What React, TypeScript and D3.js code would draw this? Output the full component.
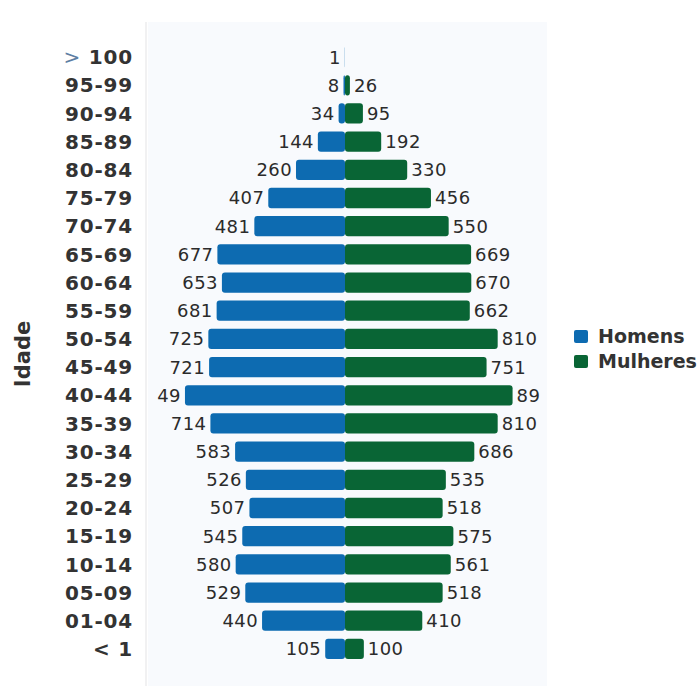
import React from "react";
import * as d3 from "d3";

// age groups, top to bottom
const ages: string[] = [
  "> 100", "95-99", "90-94", "85-89", "80-84", "75-79", "70-74", "65-69",
  "60-64", "55-59", "50-54", "45-49", "40-44", "35-39", "30-34", "25-29",
  "20-24", "15-19", "10-14", "05-09", "01-04", "< 1",
];

const men: number[] = [
  1, 8, 34, 144, 260, 407, 481, 677, 653, 681, 725, 721, 849, 714, 583, 526,
  507, 545, 580, 529, 440, 105,
];
const women: number[] = [
  0, 26, 95, 192, 330, 456, 550, 669, 670, 662, 810, 751, 889, 810, 686, 535,
  518, 575, 561, 518, 410, 100,
];

// labels as printed on the bars (the 40-44 ones are cut in the original)
const menLabels: string[] = [
  "1", "8", "34", "144", "260", "407", "481", "677", "653", "681", "725", "721",
  "49", "714", "583", "526", "507", "545", "580", "529", "440", "105",
];
const womenLabels: string[] = [
  "", "26", "95", "192", "330", "456", "550", "669", "670", "662", "810", "751",
  "89", "810", "686", "535", "518", "575", "561", "518", "410", "100",
];

const seriesNames: string[] = ["Homens", "Mulheres"];

const width = 700;
const height = 686;
const centerX = 345;
const plotLeft = 148;
const plotRight = 547;

const colors = { men: "#0d6bb1", women: "#096535" };

const App: React.FC = () => {
  const y = d3.scaleBand<string>().domain(ages).range([43, 663]).paddingInner(0.28).paddingOuter(0.14);

  const menX = d3.scaleLinear().domain([0, 1000]).range([centerX, centerX - 188.5]);
  const womenX = d3.scaleLinear().domain([0, 1000]).range([centerX, centerX + 188.5]);

  const bh = y.bandwidth();
  const font = "'DejaVu Sans', Verdana, sans-serif";

  return (
    <svg
      width={width}
      height={height}
      style={{ position: "absolute", left: 0, top: 0, background: "#fff" }}
      fontFamily={font}
    >
      {/* plot background */}
      <rect x={plotLeft} y={22} width={plotRight - plotLeft} height={height - 22} fill="#f8fafd" />
      <line x1={146} x2={146} y1={22} y2={height} stroke="#ececee" strokeWidth={1.5} />

      {/* bars */}
      {ages.map((a, i) => {
        const cy = y(a)! + bh / 2;
        return (
          <g key={a}>
            {men[i] > 0 && (
              <rect
                x={menX(men[i])}
                y={y(a)}
                width={centerX - menX(men[i])}
                height={bh}
                rx={3}
                fill={colors.men}
              />
            )}
            {women[i] > 0 && (
              <rect
                x={centerX}
                y={y(a)}
                width={womenX(women[i]) - centerX}
                height={bh}
                rx={3}
                fill={colors.women}
              />
            )}
            <text
              x={menX(men[i]) - 4}
              y={cy}
              dy="0.36em"
              textAnchor="end"
              fontSize={18}
              fill="#2b2b2b"
              letterSpacing={0.4}
            >
              {menLabels[i]}
            </text>
            <text x={womenX(women[i]) + 4} y={cy} dy="0.36em" fontSize={18} fill="#2b2b2b" letterSpacing={0.4}>
              {womenLabels[i]}
            </text>
          </g>
        );
      })}

      {/* y axis labels */}
      {ages.map(a => {
        const cy = y(a)! + bh / 2;
        const gt = a.startsWith(">");
        return (
          <text
            key={`lab-${a}`}
            x={133}
            y={cy}
            dy="0.36em"
            textAnchor="end"
            fontSize={20}
            fontWeight="bold"
            fill="#333"
            letterSpacing={0.8}
          >
            {gt ? (
              <>
                <tspan fill="#5d7ea3" fontWeight="normal">{">"}</tspan>
                <tspan>{a.slice(1)}</tspan>
              </>
            ) : (
              a
            )}
          </text>
        );
      })}

      {/* axis title */}
      <text
        transform="translate(30,354) rotate(-90)"
        textAnchor="middle"
        fontSize={21}
        fontWeight="bold"
        fill="#333"
      >
        Idade
      </text>

      {/* legend */}
      {seriesNames.map((name, i) => (
        <g key={name} transform={`translate(574, ${330 + i * 25})`}>
          <rect width={14} height={13} rx={2} fill={i === 0 ? colors.men : colors.women} />
          <text x={24} y={13} fontSize={19} fontWeight="bold" fill="#333">
            {name}
          </text>
        </g>
      ))}
    </svg>
  );
};

export default App;
